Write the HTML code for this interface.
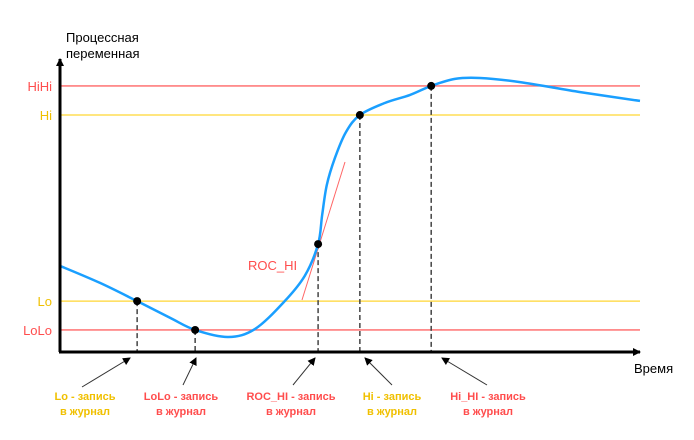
<!DOCTYPE html>
<html><head><meta charset="utf-8"><style>
html,body{margin:0;padding:0;background:#fff;}
svg{display:block;font-family:"Liberation Sans",sans-serif;}
</style></head><body>
<svg id="c" width="694" height="440" viewBox="0 0 694 440"></svg>
<script>
const times=[0,6.9,13.3,19,23.3,29,33.6,38.6,42.2,44.5,45.2,46.0,47.4,49.3,51.7,56,60.3,64,68.1,72.4,79.3,89.7,100];
const values=[29.3,23.5,17.3,11.6,7.5,5.1,7.8,17.0,25.9,36.7,46.6,56.8,66.0,74.8,80.6,84.7,87.4,90.5,92.9,93.2,91.8,88.4,85.4];
const thresholdNames=["HiHi","Hi","Lo","LoLo"];
const thresholdValues=[90.5,80.6,17.3,7.5];
const eventTimes=[13.3,23.3,44.5,51.7,64];
const eventValues=[17.3,7.5,36.7,80.6,90.5];
const eventLabels=["Lo - запись","LoLo - запись","ROC_HI - запись","Hi - запись","Hi_HI - запись"];
const NS="http://www.w3.org/2000/svg";
const svg=document.getElementById('c');
const x=t=>60+t*5.8, y=v=>352-v*2.94;
function el(tag,attrs,parent){const e=document.createElementNS(NS,tag);for(const k in attrs)e.setAttribute(k,attrs[k]);(parent||svg).appendChild(e);return e;}
const thColors=["#ff6666","#ffd633","#ffd633","#ff6666"];
const thText=["#ff4d4d","#f0c000","#f0c000","#ff4d4d"];
thresholdValues.forEach((v,i)=>{
 const l=el('line',{x1:60,x2:640,y1:y(v),y2:y(v),stroke:thColors[i],'stroke-width':1.3});
 
 
 const t=el('text',{x:52,y:y(v)+5,'text-anchor':'end','font-size':13,fill:thText[i]});
 t.textContent=thresholdNames[i];
 
 
});
eventTimes.forEach((t,i)=>{
 const d=el('line',{x1:x(t),x2:x(t),y1:y(eventValues[i]),y2:352,stroke:'#444','stroke-width':1.5,'stroke-dasharray':'5,3'});
 
 
});
const tg=el('line',{x1:302,y1:300,x2:345,y2:162,stroke:'#ff6666','stroke-width':1});


const P=times.map((t,i)=>[x(t),y(values[i])]);
let d='M'+P[0][0]+','+P[0][1];
for(let i=0;i<P.length-1;i++){const p0=P[Math.max(0,i-1)],p1=P[i],p2=P[i+1],p3=P[Math.min(P.length-1,i+2)];
 d+=` C${p1[0]+(p2[0]-p0[0])/6},${p1[1]+(p2[1]-p0[1])/6} ${p2[0]-(p3[0]-p1[0])/6},${p2[1]-(p3[1]-p1[1])/6} ${p2[0]},${p2[1]}`;}
const cv=el('path',{d:d,fill:'none',stroke:'#1a9fff','stroke-width':2.5});


eventTimes.forEach((t,i)=>{
 const c=el('circle',{cx:x(t),cy:y(eventValues[i]),r:4,fill:'#000'});
 
 
});
const roc=el('text',{x:248,y:270,'font-size':13,fill:'#ff4d4d'});roc.textContent='ROC_HI';


el('defs',{}).innerHTML='<marker id="ah" markerWidth="8" markerHeight="8" refX="7" refY="4" orient="auto" markerUnits="userSpaceOnUse"><path d="M0,0 L8,4 L0,8 z" fill="#000"/></marker>';
const ya=el('line',{x1:60,y1:352,x2:60,y2:59,stroke:'#000','stroke-width':3,'marker-end':'url(#ah)'});


const xa=el('line',{x1:59,y1:352,x2:640,y2:352,stroke:'#000','stroke-width':3,'marker-end':'url(#ah)'});


const yt=el('text',{x:66,y:42,'font-size':13,fill:'#000'});
yt.innerHTML='<tspan x="66">Процессная</tspan><tspan x="66" dy="16">переменная</tspan>';


const xt=el('text',{x:634,y:373,'font-size':13,fill:'#000'});xt.textContent='Время';


const labelX=[85,181,291,392,488];
const arrowFrom=[[82,387],[183,385],[293,385],[392,385],[487,385]];
const arrowTo=[[130,358],[196,358],[315,358],[365,358],[442,358]];
const lblColors=["#f0c000","#ff4d4d","#ff4d4d","#f0c000","#ff4d4d"];
eventLabels.forEach((s,i)=>{
 const a=el('line',{x1:arrowFrom[i][0],y1:arrowFrom[i][1],x2:arrowTo[i][0],y2:arrowTo[i][1],stroke:'#333','stroke-width':1,'marker-end':'url(#ah)'});
 
 
 const t=el('text',{x:labelX[i],y:400,'text-anchor':'middle','font-size':11,'font-weight':'bold',fill:lblColors[i]});
 t.innerHTML=`<tspan x="${labelX[i]}">${s}</tspan><tspan x="${labelX[i]}" dy="15">в журнал</tspan>`;
 
 
});
</script>
</body></html>
